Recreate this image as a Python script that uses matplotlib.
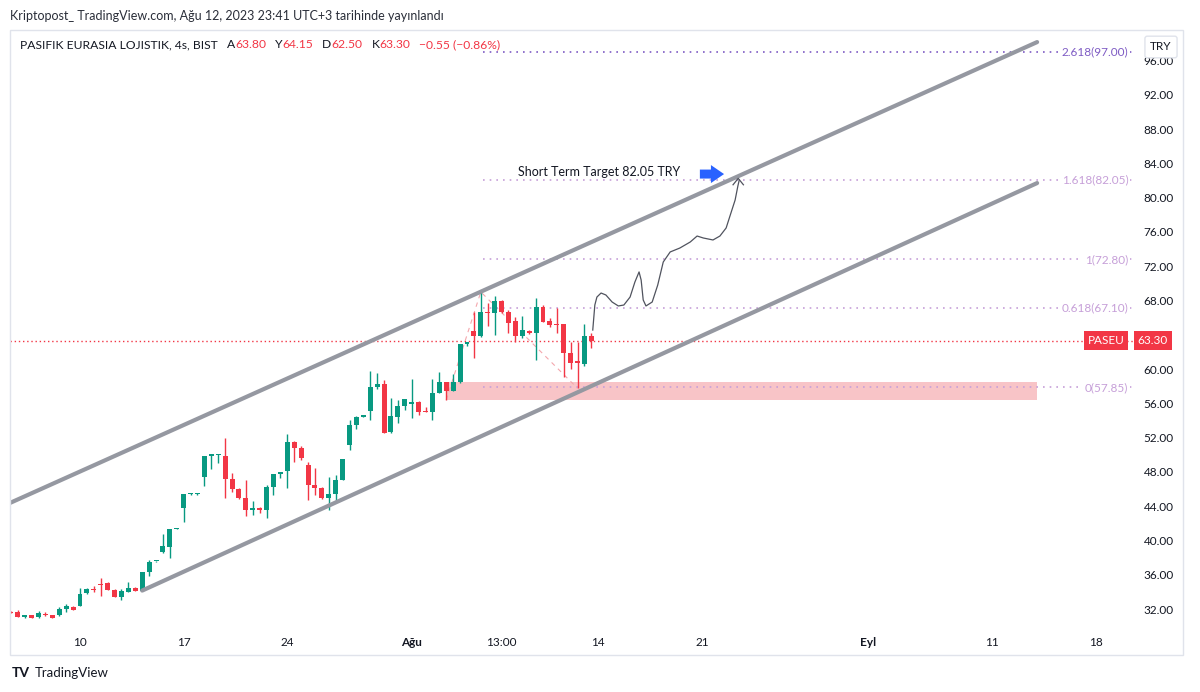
import numpy as np
import matplotlib
matplotlib.use('Agg')
import matplotlib.pyplot as plt
from matplotlib.patches import Rectangle
from matplotlib import transforms

# ---- data (bar index 0 = first 4h bar of 10 Jul) ----
bars = np.arange(-10, 75)
opens = [31.7, 31.6, 31.05, 31.3, 31.05, 31.35, 31.3, 31.3, 32.0, 32.25,
         32.3, 33.9, 34.35, 34.95, 35.0, 34.25, 33.4, 34.0, 34.5, 34.15,
         36.3, 37.55, 38.6, 39.2, 41.3, 43.8, 45.4, 45.4, 47.45, 49.9,
         49.95, 49.9, 47.2, 46.0, 44.9, 43.5, 43.75, 43.5, 46.2, 47.8,
         48.15, 51.5, 50.75, 48.8, 46.5, 46.1, 44.9, 45.4, 47.1, 51.1,
         53.5, 54.45, 55.15, 57.9, 58.3, 52.6, 54.45, 55.7, 55.9, 56.2,
         55.05, 55.0, 57.25, 58.45, 57.45, 58.45, 62.9, 64.45, 63.8, 66.6,
         66.5, 67.95, 66.7, 65.65, 63.85, 64.4, 64.2, 67.2, 65.65, 65.2,
         65.2, 61.85, 60.8, 60.6, 63.8]
highs = [31.8, 31.85, 31.35, 31.35, 31.8, 31.6, 31.35, 32.25, 32.6, 32.3,
         34.4, 34.5, 34.7, 35.6, 35.15, 34.3, 34.35, 35.1, 34.55, 36.3,
         37.7, 37.65, 40.75, 41.3, 41.4, 45.4, 45.5, 45.5, 49.9, 50.0,
         50.05, 51.9, 47.9, 46.1, 47.1, 44.6, 43.9, 46.5, 47.8, 47.9,
         52.4, 51.6, 51.0, 49.2, 48.5, 46.2, 47.4, 47.6, 49.5, 54.0,
         54.5, 54.5, 59.8, 59.5, 58.7, 56.6, 56.4, 56.45, 58.8, 56.3,
         55.6, 58.8, 59.6, 58.5, 59.4, 62.9, 63.2, 66.7, 69.0, 67.75,
         68.5, 68.0, 66.9, 66.1, 66.2, 64.6, 68.25, 67.5, 65.9, 67.1,
         65.2, 63.1, 63.2, 65.3, 64.15]
lows = [31.5, 31.05, 31.0, 30.95, 31.0, 31.15, 30.95, 31.2, 31.7, 31.85,
        32.3, 33.7, 33.95, 33.55, 34.2, 33.4, 33.0, 33.95, 34.15, 34.15,
        35.85, 37.5, 38.5, 38.0, 41.3, 42.1, 45.35, 45.35, 46.4, 48.3,
        49.0, 45.0, 45.7, 44.8, 42.8, 43.0, 43.2, 42.6, 45.3, 47.3,
        46.1, 49.1, 49.4, 44.7, 45.3, 44.8, 43.6, 44.5, 47.0, 50.6,
        53.0, 54.4, 54.05, 57.65, 52.5, 52.5, 53.7, 55.2, 54.25, 54.6,
        55.0, 54.0, 57.2, 56.4, 57.4, 58.35, 62.65, 61.25, 63.7, 65.0,
        64.0, 66.5, 64.25, 63.2, 63.6, 64.1, 61.05, 65.5, 64.95, 64.25,
        59.05, 60.0, 57.75, 60.35, 62.5]
closes = [31.55, 31.1, 31.3, 31.0, 31.5, 31.3, 31.0, 32.0, 32.35, 31.9,
          33.8, 34.3, 34.25, 34.8, 34.2, 33.4, 34.1, 34.5, 34.15, 36.3,
          37.5, 37.6, 39.3, 41.3, 41.35, 45.4, 45.45, 45.45, 49.9, 49.95,
          50.0, 47.2, 46.0, 44.9, 43.5, 43.75, 43.5, 46.2, 47.8, 47.85,
          51.5, 50.75, 49.6, 46.5, 46.1, 44.9, 45.4, 47.1, 49.5, 53.5,
          54.45, 54.5, 57.95, 58.25, 52.5, 54.5, 55.7, 56.45, 56.2, 55.0,
          55.0, 57.25, 58.45, 57.45, 58.45, 62.9, 63.2, 63.85, 66.6, 66.5,
          67.95, 66.6, 65.35, 63.85, 64.55, 64.15, 67.2, 65.5, 65.15, 65.1,
          61.85, 60.75, 60.75, 63.8, 63.3]

tick_pos = [0, 15, 30, 48, 61, 75, 90, 114, 132, 147]
tick_lab = ['10', '17', '24', 'Ağu', '13:00', '14', '21', 'Eyl', '11', '18']
price_ticks = np.arange(32, 97, 4)

# channel lines (bar, price)
upper_x, upper_y = [-10.2, 138.5], [44.35, 98.15]
lower_x, lower_y = [9, 138.5], [34.15, 81.7]

# fib levels
fib_ratio = ['2.618', '1.618', '1', '0.618', '0']
fib_price = [97.00, 82.05, 72.80, 67.10, 57.85]
zone_x, zone_top, zone_bot = [53, 138.5], 58.45, 56.4
last_price = 63.30

# hand drawn projection path
path_x = [74.2, 74.5, 74.8, 75.4, 76.1, 77.0, 77.9, 78.7, 79.6, 80.3, 80.9,
          81.2, 81.5, 81.9, 82.8, 83.6, 84.4, 85.4, 86.8, 88.3, 89.3, 90.2,
          91.6, 92.6, 93.5, 94.1, 94.8, 95.2, 95.4]
path_y = [64.55, 67.47, 68.4, 68.87, 68.64, 67.82, 67.36, 67.47, 68.4, 70.16,
          71.33, 70.39, 68.06, 67.36, 67.82, 69.8, 72.49, 73.66, 74.12, 74.82,
          75.52, 75.29, 75.06, 75.52, 76.46, 77.97, 79.72, 81.36, 82.06]
chev_x, chev_y = [94.5, 95.25, 96.0], [81.5, 82.25, 81.5]
swing_x, swing_y = [53, 58, 72], [56.4, 69.0, 57.75]

W, H = 1200, 692
GREEN, RED = '#089981', '#f23645'
DARK = '#131722'

plt.rcParams['font.family'] = ['Lato', 'DejaVu Sans']

def fx(px):
    return px / W

def fy(py):
    return 1 - py / H

fig = plt.figure(figsize=(12, 6.92), dpi=100)
fig.patch.set_facecolor('white')
ax = fig.add_axes([fx(10), fy(627), fx(1138) - fx(10), fy(30) - fy(627)])
ax.set_xlim(-10.13, 153.1)
ax.set_ylim(29.9, 99.56)
for s in ax.spines.values():
    s.set_visible(False)

# panel border
fig.patches.append(Rectangle((fx(10), fy(655)), fx(1183) - fx(10), fy(30) - fy(655),
                             transform=fig.transFigure, fill=False, ec='#e0e3eb', lw=1))

# zone + channel
ax.add_patch(Rectangle((zone_x[0], zone_bot), zone_x[1] - zone_x[0], zone_top - zone_bot,
                       fc='#f8c4c7', ec='none', zorder=1))
ax.plot(upper_x, upper_y, color='#9598a1', lw=3, solid_capstyle='round', zorder=4)
ax.plot(lower_x, lower_y, color='#9598a1', lw=3, solid_capstyle='round', zorder=4)

# swing dashed
ax.plot(swing_x, swing_y, color='#f4a7ad', lw=0.8, ls=(0, (4, 4)), zorder=1.5)

# fib levels
for r, p in zip(fib_ratio, fib_price):
    c = '#7e5bc4' if r == '2.618' else '#c69fd8'
    ax.plot([58.3, 152.8], [p, p], color=c, lw=1.2, ls=(0, (1, 3)), zorder=1.6)
    ax.text(151.7, p, '%s(%.2f)' % (r, p), color=c, fontsize=8.5, ha='right', va='center',
            zorder=5, bbox=dict(fc='white', ec='none', pad=1.5))

# last price line
ax.axhline(last_price, color=RED, lw=1.0, ls=(0, (1, 2)), zorder=1.5)

# candles
o = np.array(opens); h = np.array(highs); l = np.array(lows); c = np.array(closes)
cols = [GREEN if cc >= oo else RED for oo, cc in zip(o, c)]
ax.vlines(bars, l, h, colors=cols, lw=1, zorder=2)
ax.bar(bars, np.maximum(np.abs(c - o), 0.13), bottom=np.minimum(o, c), width=0.72,
       color=cols, lw=0, zorder=3)

# projection path
ax.plot(path_x, path_y, color='#50535e', lw=0.9, zorder=5)
ax.plot(chev_x, chev_y, color='#50535e', lw=0.9, zorder=5)

# target text and arrow
ax.text(75.1, 83.0, 'Short Term Target 82.05 TRY', fontsize=9, color=DARK,
        ha='center', va='center', zorder=6)
ax.arrow(89.7, 82.75, 3.5, 0, width=1.05, head_width=2.1, head_length=1.9,
         length_includes_head=True, fc='#2962ff', ec='none', zorder=6)

# axes ticks (64.00 sits under the price badge)
ax.yaxis.tick_right()
ax.set_yticks(price_ticks)
ax.set_yticklabels(['' if v == 64 else '%.2f' % v for v in price_ticks])
ax.tick_params(axis='y', length=0, pad=4, labelsize=8.5, labelcolor=DARK)
ax.set_xticks(tick_pos)
ax.set_xticklabels(tick_lab)
ax.tick_params(axis='x', length=0, pad=7, labelsize=8.5, labelcolor=DARK)
for t in ax.get_xticklabels():
    if t.get_text() in ('Ağu', 'Eyl'):
        t.set_fontweight('bold')

# price badge
bt = transforms.blended_transform_factory(fig.transFigure, ax.transData)
ax.text(fx(1106), last_price, 'PASEU', transform=bt, ha='center', va='center', color='white',
        fontsize=8.5, clip_on=False, zorder=10,
        bbox=dict(fc=RED, ec='none', boxstyle='square,pad=0.32'))
ax.text(fx(1153), last_price, '63.30', transform=bt, ha='center', va='center', color='white',
        fontsize=8.5, clip_on=False, zorder=10,
        bbox=dict(fc=RED, ec='none', boxstyle='square,pad=0.32'))

# currency box
fig.text(fx(1161), fy(47), 'TRY', ha='center', va='center', fontsize=8.5, color=DARK, zorder=10,
         bbox=dict(fc='white', ec='#e0e3eb', boxstyle='round,pad=0.45,rounding_size=0.2'))

# header
fig.text(fx(10), fy(16), 'Kriptopost_ TradingView.com, Ağu 12, 2023 23:41 UTC+3 tarihinde yayınlandı',
         fontsize=9, color='#2a2e39', va='center')
fig.canvas.draw()
rend = fig.canvas.get_renderer()
pieces = [('PASIFIK EURASIA LOJISTIK, 4s, BIST', DARK, 9), ('A', DARK, 0), ('63.80', RED, 9),
          ('Y', DARK, 0), ('64.15', RED, 9), ('D', DARK, 0), ('62.50', RED, 9),
          ('K', DARK, 0), ('63.30', RED, 9), ('\u22120.55 (\u22120.86%)', RED, 0)]
xp = 20
for s, col, gap in pieces:
    t = fig.text(fx(xp), fy(45), s, color=col, fontsize=8.7, va='center', ha='left')
    xp += t.get_window_extent(rend).width + gap

# footer logo
fig.text(fx(12), fy(673), 'TV', fontsize=10, fontweight='bold', color=DARK, va='center')
fig.text(fx(35), fy(673), 'TradingView', fontsize=9.5, color=DARK, va='center')

fig.savefig('out.png', dpi=100)
